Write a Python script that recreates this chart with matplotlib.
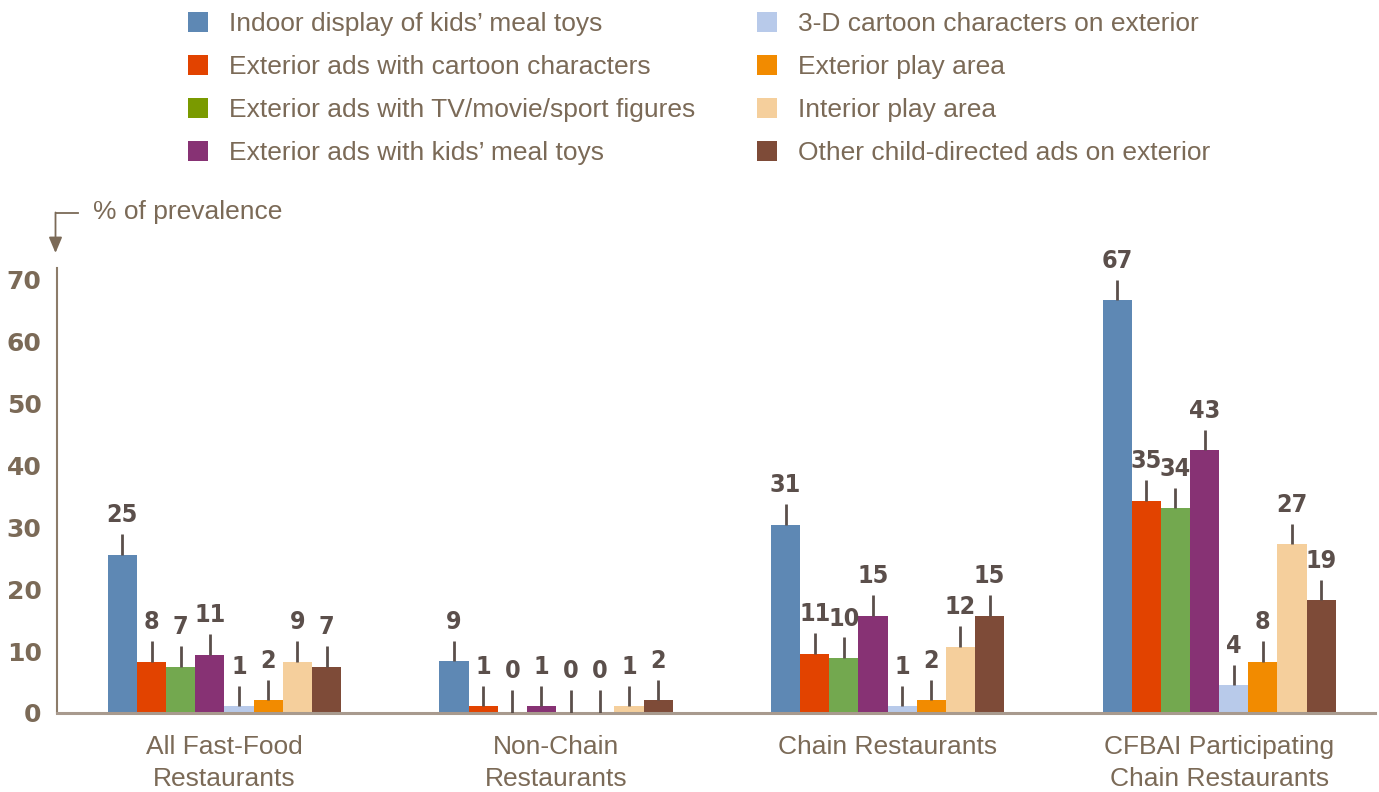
import matplotlib
matplotlib.use("Agg")
import matplotlib.pyplot as plt
from matplotlib.patches import Patch
import numpy as np

categories = ["All Fast-Food\nRestaurants", "Non-Chain\nRestaurants",
              "Chain Restaurants", "CFBAI Participating\nChain Restaurants"]
series = ["Indoor display of kids\u2019 meal toys",
          "Exterior ads with cartoon characters",
          "Exterior ads with TV/movie/sport figures",
          "Exterior ads with kids\u2019 meal toys",
          "3-D cartoon characters on exterior",
          "Exterior play area",
          "Interior play area",
          "Other child-directed ads on exterior"]
# bar heights as drawn (percent), per series across the four categories
heights = [
    [25.6, 8.4, 30.4, 66.7],
    [8.3, 1.1, 9.6, 34.3],
    [7.5, 0.0, 8.9, 33.1],
    [9.4, 1.1, 15.7, 42.5],
    [1.1, 0.0, 1.1, 4.5],
    [2.1, 0.0, 2.1, 8.3],
    [8.3, 1.1, 10.7, 27.3],
    [7.5, 2.1, 15.7, 18.2],
]
# printed value labels
labels = [
    [25, 9, 31, 67],
    [8, 1, 11, 35],
    [7, 0, 10, 34],
    [11, 1, 15, 43],
    [1, 0, 1, 4],
    [2, 0, 2, 8],
    [9, 1, 12, 27],
    [7, 2, 15, 19],
]
bar_colors = ["#5e88b4", "#e24300", "#73a84f", "#873274",
              "#b8caea", "#f28b00", "#f5cf9c", "#7e4b38"]
legend_colors = ["#5e88b4", "#e24300", "#7a9a00", "#873274",
                 "#b8caea", "#f28b00", "#f5cf9c", "#7e4b38"]
yticks = [0, 10, 20, 30, 40, 50, 60, 70]

brown = "#7b6a57"
dark = "#5b4f4b"
txt_font = ["Liberation Sans", "DejaVu Sans"]

W, H = 1379, 792
fig = plt.figure(figsize=(W / 100, H / 100), dpi=100)
ax = fig.add_axes([57 / W, (792 - 713) / H, (1375 - 57) / W, (713 - 268) / H])

spacing = 1.0
bw = 29.2 / 332.0
x = np.arange(len(categories)) * spacing
n = len(series)
for i in range(n):
    xs = x + (i - (n - 1) / 2) * bw
    ax.bar(xs, heights[i], width=bw, color=bar_colors[i], linewidth=0, zorder=2)
    for xi, h, lab in zip(xs, heights[i], labels[i]):
        top = h + 3.3 if h > 0 else 3.7
        ax.plot([xi, xi], [h, top], color=dark, lw=2.0, solid_capstyle="butt", zorder=3)
        ax.annotate(str(lab), (xi, top), xytext=(0, 5), textcoords="offset points",
                    ha="center", va="bottom", fontsize=18, fontweight="bold",
                    fontstretch="condensed", color=dark, family="DejaVu Sans")

ax.set_xlim(-0.505, 3.47)
ax.set_ylim(0, 71.9)
ax.set_yticks(yticks)
ax.set_yticklabels([str(t) for t in yticks], fontsize=18, fontweight="bold",
                   color=brown, family="DejaVu Sans")
ax.tick_params(axis="y", length=0, pad=11)
ax.set_xticks(x)
ax.set_xticklabels(categories, fontsize=19, color=brown, family=txt_font,
                   linespacing=1.4)
ax.tick_params(axis="x", length=0, pad=16)
for s in ["top", "right"]:
    ax.spines[s].set_visible(False)
ax.spines["left"].set_color("#8c7c6a")
ax.spines["left"].set_linewidth(1.5)
ax.spines["bottom"].set_color("#a89a8e")
ax.spines["bottom"].set_linewidth(2.2)

# axis title with bent arrow
fig.text(93 / W, 1 - 212 / H, "% of prevalence", fontsize=19, color=brown,
         family=txt_font, ha="left", va="center")
fig.add_artist(plt.Line2D([55.5 / W, 78 / W], [1 - 213 / H, 1 - 213 / H],
                          color=brown, lw=1.3, transform=fig.transFigure))
ax.annotate("", xy=(55.5 / W, 1 - 253 / H), xytext=(55.5 / W, 1 - 212.5 / H),
            xycoords="figure fraction", textcoords="figure fraction",
            arrowprops=dict(arrowstyle="-|>,head_width=0.4,head_length=0.95",
                            color=brown, lw=1.3, shrinkA=0, shrinkB=0))

handles = [Patch(facecolor=c, edgecolor="none") for c in legend_colors]
for col, x0 in ((0, 175), (1, 744)):
    leg = fig.legend(handles[4 * col:4 * col + 4], series[4 * col:4 * col + 4],
                     loc="upper left", bbox_to_anchor=(x0 / W, 1 + 1 / H),
                     frameon=False, prop=dict(family=txt_font, size=19),
                     handlelength=0.75, handleheight=0.75, handletextpad=0.8,
                     labelspacing=0.72, borderpad=0.0)
    for t in leg.get_texts():
        t.set_color(brown)

fig.savefig("out.png", dpi=100)
